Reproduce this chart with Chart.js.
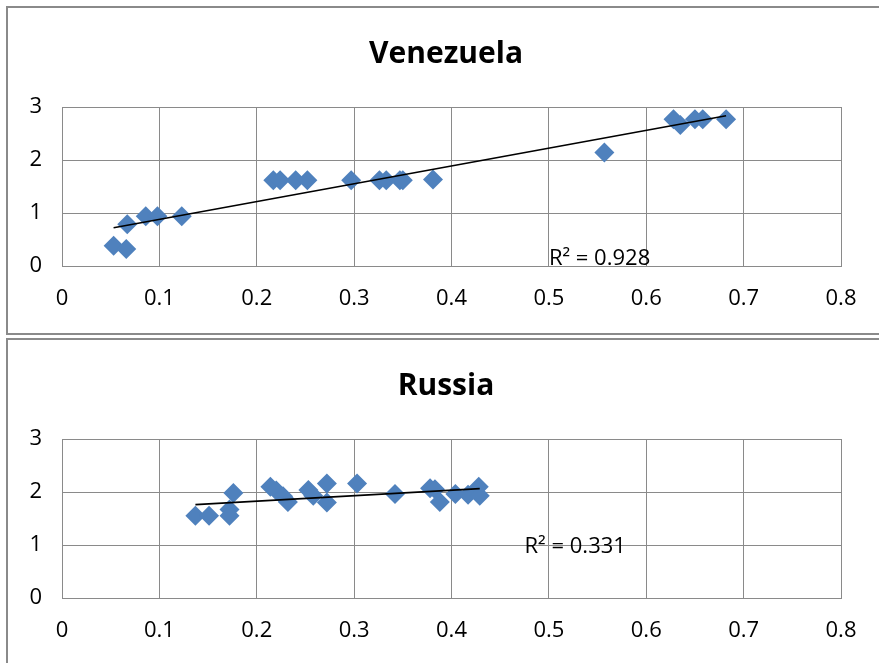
<!DOCTYPE html>
<html>
<head>
<meta charset="utf-8">
<script src="https://cdn.jsdelivr.net/npm/chart.js@4.4.1/dist/chart.umd.min.js"></script>
<style>
  html, body { margin:0; padding:0; background:#fff; overflow:hidden; width:879px; height:663px; }
  .box { position:absolute; left:6px; width:880px; height:325px; border:2px solid #8a8a8a; background:#fff; }
  .box canvas { position:absolute; left:0; top:0; }
</style>
</head>
<body>
<div class="box" style="top:6px"><canvas id="c1" width="876" height="325"></canvas></div>
<div class="box" style="top:338px"><canvas id="c2" width="876" height="325"></canvas></div>
<script>
// ---- data ----
const chartTitles = ["Venezuela", "Russia"];
const xTicks = [0, 0.1, 0.2, 0.3, 0.4, 0.5, 0.6, 0.7, 0.8];
const yTicks = [0, 1, 2, 3];

const venezuelaX = [0.053,0.066,0.067,0.086,0.098,0.123,0.217,0.224,0.240,0.252,0.297,0.326,0.333,0.347,0.350,0.381,0.557,0.628,0.635,0.650,0.658,0.682];
const venezuelaY = [0.38,0.32,0.79,0.94,0.94,0.94,1.62,1.62,1.62,1.62,1.62,1.62,1.62,1.62,1.62,1.63,2.14,2.77,2.66,2.77,2.77,2.77];
const venezuelaR2 = "R² = 0.928";

const russiaX = [0.137,0.151,0.172,0.172,0.176,0.214,0.220,0.227,0.232,0.253,0.258,0.272,0.272,0.303,0.342,0.378,0.383,0.388,0.404,0.417,0.428,0.429];
const russiaY = [1.55,1.55,1.67,1.55,1.98,2.10,2.03,1.92,1.81,2.04,1.93,2.16,1.80,2.16,1.96,2.07,2.05,1.81,1.96,1.95,2.10,1.93];
const russiaR2 = "R² = 0.331";

// ---- helpers ----
function toPoints(xs, ys) { return xs.map((x, i) => ({ x: x, y: ys[i] })); }
function trend(xs, ys) {
  const n = xs.length;
  const mx = xs.reduce((a, b) => a + b, 0) / n;
  const my = ys.reduce((a, b) => a + b, 0) / n;
  let sxy = 0, sxx = 0;
  for (let i = 0; i < n; i++) { sxy += (xs[i] - mx) * (ys[i] - my); sxx += (xs[i] - mx) ** 2; }
  const b = sxy / sxx, a = my - b * mx;
  const x0 = Math.min(...xs), x1 = Math.max(...xs);
  return [{ x: x0, y: a + b * x0 }, { x: x1, y: a + b * x1 }];
}

const FONT = "'Open Sans', 'Noto Sans', sans-serif";
const GRID = '#8a8a8a';

const r2Plugin = {
  id: 'r2label',
  afterDatasetsDraw(chart, args, opts) {
    const ctx = chart.ctx;
    const xs = chart.scales.x, ys = chart.scales.y;
    ctx.save();
    ctx.font = '22px ' + FONT;
    ctx.fillStyle = '#000';
    ctx.textAlign = 'left';
    ctx.textBaseline = 'middle';
    ctx.fillText(opts.text, xs.getPixelForValue(opts.x), ys.getPixelForValue(opts.y));
    ctx.restore();
  }
};

function makeChart(id, title, xs, ys, r2text, r2pos) {
  new Chart(document.getElementById(id), {
    type: 'scatter',
    data: {
      datasets: [
        {
          data: trend(xs, ys),
          showLine: true,
          borderColor: '#000',
          borderWidth: 1.6,
          pointRadius: 0,
          fill: false
        },
        {
          data: toPoints(xs, ys),
          pointStyle: 'rectRot',
          pointRadius: 10,
          pointHoverRadius: 10,
          backgroundColor: '#4f81bd',
          borderColor: '#4f81bd',
          borderWidth: 0
        }
      ]
    },
    options: {
      responsive: false,
      animation: false,
      layout: { padding: 0 },
      plugins: {
        legend: { display: false },
        tooltip: { enabled: false },
        title: {
          display: true,
          text: title,
          color: '#000',
          font: { family: FONT, size: 30, weight: 'bold', lineHeight: 1.2 },
          padding: { top: 28, bottom: 35 }
        },
        r2label: { text: r2text, x: r2pos.x, y: r2pos.y }
      },
      scales: {
        x: {
          type: 'linear',
          min: xTicks[0], max: xTicks[xTicks.length - 1],
          afterBuildTicks: s => { s.ticks = xTicks.map(v => ({ value: v })); },
          afterFit: s => { s.height = 67; },
          grid: { color: GRID, lineWidth: 1, drawTicks: false },
          border: { color: GRID, width: 1 },
          ticks: { color: '#000', font: { family: FONT, size: 22 }, padding: 20, maxRotation: 0,
                   callback: v => String(v) }
        },
        y: {
          type: 'linear',
          min: yTicks[0], max: yTicks[yTicks.length - 1],
          afterBuildTicks: s => { s.ticks = yTicks.map(v => ({ value: v })); },
          afterFit: s => { s.width = 54; },
          grid: { color: GRID, lineWidth: 1, drawTicks: false },
          border: { color: GRID, width: 1 },
          ticks: { color: '#000', font: { family: FONT, size: 22 }, padding: 20,
                   callback: v => String(v) }
        },
        yPad: {
          type: 'linear',
          position: 'right',
          display: true,
          afterFit: s => { s.width = 43; },
          grid: { display: false, drawTicks: false },
          border: { display: false },
          ticks: { display: false }
        }
      }
    },
    plugins: [r2Plugin]
  });
}

makeChart('c1', chartTitles[0], venezuelaX, venezuelaY, venezuelaR2, { x: 0.5, y: 0.13 });
makeChart('c2', chartTitles[1], russiaX, russiaY, russiaR2, { x: 0.475, y: 0.96 });
</script>
</body>
</html>
